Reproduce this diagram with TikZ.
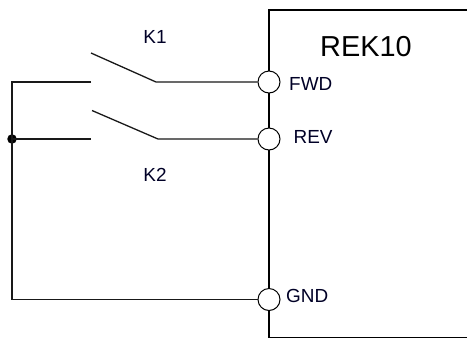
\documentclass[tikz,border=0pt]{standalone}
\usepackage{fontspec}
\setmainfont{Liberation Sans}
\begin{document}
\begin{tikzpicture}[x=1bp,y=-1bp,
  wire/.style={line width=1.3bp,draw=black!90},
  boxline/.style={line width=2.6bp,draw=black},
  term/.style={circle,draw=black,line width=1bp,fill=white,minimum size=22bp,inner sep=0pt},
  dotnode/.style={circle,fill=black,minimum size=9.5bp,inner sep=0pt},
  lbl/.style={font=\fontsize{19}{22}\selectfont,text=black!85!blue,inner sep=0pt},
  title/.style={font=\fontsize{29}{34}\selectfont,text=black,inner sep=0pt}]
\useasboundingbox (0,0) rectangle (467,338);
\clip (0,0) rectangle (467,338);
% device box
\draw[boxline] (480,10) -- (269,10) -- (269,337.5);
\draw[line width=1.5bp] (269,337.3) -- (480,337.3);
\node[title,anchor=base] (rek) at (366,56.5) {REK10};
% terminals
\node[term] (fwd) at (269,82) {};
\node[term] (rev) at (269,139) {};
\node[term] (gnd) at (269,299.5) {};
\node[lbl,anchor=base west] (fwdl) at (289,90.3) {FWD};
\node[lbl,anchor=base west] (revl) at (293.5,143) {REV};
\node[lbl,anchor=base west] (gndl) at (286,302) {GND};
% left bus
\coordinate (ltop) at (12,82);
\coordinate (lbot) at (12,299.5);
\node[dotnode] (jn) at (12,139) {};
% switch K1
\coordinate (k1a) at (91,82);
\coordinate (k1b) at (91,53);
\coordinate (k1c) at (156,82);
% switch K2
\coordinate (k2a) at (91,139);
\coordinate (k2b) at (92,110.5);
\coordinate (k2c) at (158,139);
\draw[wire] (k1a) -- (ltop) -- (lbot) -- (gnd.west);
\draw[wire] (jn.center) -- (k2a);
\draw[wire] (k1b) -- (k1c) -- (fwd.west);
\draw[wire] (k2b) -- (k2c) -- (rev.west);
\node[lbl,anchor=base] (k1) at (155,43.5) {K1};
\node[lbl,anchor=base] (k2) at (155,181.5) {K2};
\end{tikzpicture}
\end{document}
